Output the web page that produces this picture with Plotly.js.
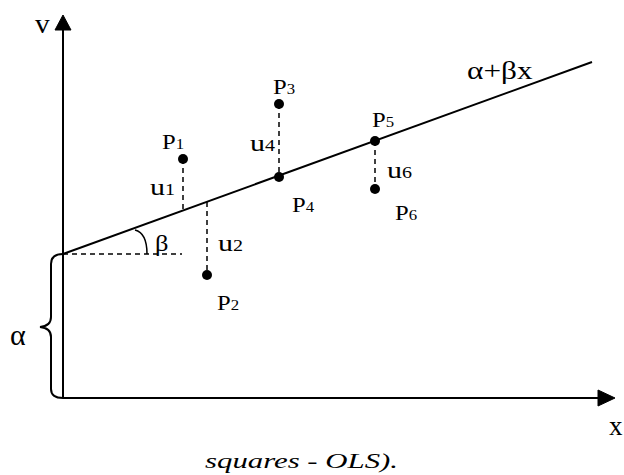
<!DOCTYPE html>
<html>
<head>
<meta charset="utf-8">
<script src="https://cdn.plot.ly/plotly-3.0.1.min.js"></script>
<style>html,body{margin:0;padding:0;background:#fff}#chart{width:624px;height:475px}</style>
</head>
<body>
<div id="chart"></div>
<script>
// ---- data (diagram units: origin at axes crossing, y up) ----
var lineX = [0, 529];            // regression line alpha + beta x
var lineY = [144, 336];
var pointNames = ['P1', 'P2', 'P3', 'P4', 'P5', 'P6'];
var pointX = [120, 144, 216, 216, 312, 312];
var pointY = [239, 123, 294, 221, 257, 209];
var residNames = ['u1', 'u2', 'u4', 'u6'];
var residX = [120, 144, 216, 312];
var residFrom = [239, 196, 294, 257];
var residTo = [188, 123, 221, 209];
var alphaValue = 144;            // intercept height

var serif = 'Liberation Serif';

var traces = [];
traces.push({x: lineX, y: lineY, mode: 'lines', line: {color: '#000', width: 2}, hoverinfo: 'skip'});
for (var i = 0; i < residX.length; i++) {
  traces.push({x: [residX[i], residX[i]], y: [residFrom[i], residTo[i]], mode: 'lines',
    line: {color: '#000', width: 1.5, dash: '5px,4px'}, hoverinfo: 'skip'});
}
traces.push({x: [0, 119], y: [alphaValue, alphaValue], mode: 'lines',
  line: {color: '#000', width: 1.5, dash: '5px,4px'}, hoverinfo: 'skip'});
traces.push({x: pointX, y: pointY, mode: 'markers', marker: {color: '#000', size: 10}, hoverinfo: 'skip'});

function sub(name, s) { return name.charAt(0) + '<span style="font-size:' + s + 'px">' + name.slice(1) + '</span>'; }

var pointLabelPos = [[97, 257], [152, 96], [208, 312], [227, 194], [307, 279], [330, 186]];
var residLabelPos = [[85, 211], [153, 155], [185, 255], [322, 228]];

var ann = [], stretch = [];
function add(a, s) { a.showarrow = false; a.xanchor = a.xanchor || 'left'; a.yanchor = 'middle'; ann.push(a); stretch.push(s); }
pointNames.forEach(function (n, i) {
  add({x: pointLabelPos[i][0], y: pointLabelPos[i][1], text: sub(n, 15), font: {family: serif, size: 22, color: '#000'}}, 1.12);
});
residNames.forEach(function (n, i) {
  add({x: residLabelPos[i][0], y: residLabelPos[i][1], text: sub(n, 16), font: {family: serif, size: 24, color: '#000'}}, 1.25);
});
add({x: 90, y: 155, text: 'β', font: {family: serif, size: 23, color: '#000'}}, 1.15);
add({x: 402, y: 328, text: 'α+βx', font: {family: serif, size: 25, color: '#000'}}, 1.25);
add({x: -30, y: 375, text: 'v', font: {family: serif, size: 28, color: '#000'}}, 1.05);
add({x: -55, y: 64, text: 'α', font: {family: serif, size: 30, color: '#000'}}, 1.0);
add({x: 544, y: -28, text: 'x', font: {family: serif, size: 27, color: '#000'}}, 1.0);
add({x: 140, y: -62, text: 'squares - OLS).', font: {family: serif, size: 22, style: 'italic', color: '#000'}}, 1.4);

var shapes = [
  {type: 'line', x0: 0, y0: 0, x1: 0, y1: 370, line: {color: '#000', width: 2}},
  {type: 'path', path: 'M -8 368 L 0 383 L 8 368 Z', fillcolor: '#000', line: {color: '#000', width: 1}},
  {type: 'line', x0: 0, y0: 0, x1: 537, y1: 0, line: {color: '#000', width: 2}},
  {type: 'path', path: 'M 535 -8 L 552 0 L 535 8 Z', fillcolor: '#000', line: {color: '#000', width: 1}},
  {type: 'path', path: 'M 72 168 C 80 166 84 158 84 144', line: {color: '#000', width: 1.5}},
  {type: 'path', path: 'M 0 144 Q -12 144 -12 134 L -12 81 Q -12 72 -23 71 Q -12 70 -12 61 L -12 9 Q -12 0 0 0',
    line: {color: '#000', width: 2}}
];

var layout = {
  width: 624, height: 475,
  margin: {l: 0, r: 0, t: 0, b: 0, pad: 0},
  paper_bgcolor: '#fff', plot_bgcolor: '#fff',
  showlegend: false,
  xaxis: {range: [-63, 561], visible: false, fixedrange: true},
  yaxis: {range: [-77, 398], visible: false, fixedrange: true},
  shapes: shapes,
  annotations: ann
};

Plotly.newPlot('chart', traces, layout, {staticPlot: true, displayModeBar: false}).then(function () {
  document.querySelectorAll('g.annotation').forEach(function (g) {
    var idx = +g.getAttribute('data-index');
    var t = g.querySelector('text.annotation-text');
    if (t && stretch[idx] && stretch[idx] !== 1) {
      t.style.transformBox = 'fill-box';
      t.style.transformOrigin = '0 50%';
      t.style.transform = 'scaleX(' + stretch[idx] + ')';
    }
  });
});
</script>
</body>
</html>
